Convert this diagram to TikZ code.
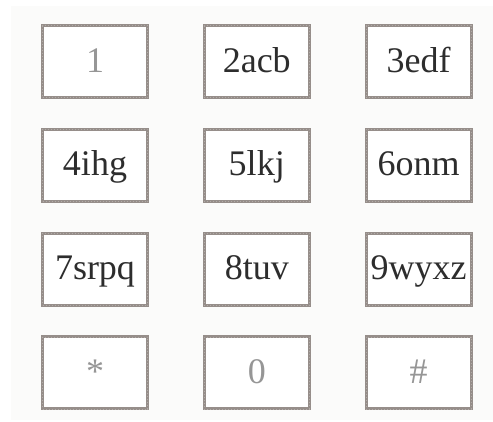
\documentclass[tikz,border=0pt]{standalone}
\usepackage{fontspec}
\setmainfont{Liberation Serif}
\definecolor{keyframe}{RGB}{150,142,138}
\definecolor{keydots}{RGB}{178,172,168}
\definecolor{keydark}{RGB}{45,45,45}
\definecolor{keylight}{RGB}{150,150,150}
\definecolor{panelbg}{RGB}{251,251,250}
\tikzset{
  keybox/.style={draw=keyframe, line width=3pt, fill=white,
    minimum width=105pt, minimum height=72pt, inner sep=0pt,
    text height=21pt, text depth=0pt,
    font=\fontsize{36}{40}\selectfont,
    postaction={draw=keydots, line width=0.6pt, dash pattern=on 0.6pt off 2.4pt}}
}
\begin{document}
\begin{tikzpicture}[x=1pt, y=-1pt]
    % Page and panel
    \fill[white] (0,0) rectangle (493,421);
    \useasboundingbox (0,0) rectangle (493,421);
    \fill[panelbg] (11,6) rectangle (493,420);

    % Keys of the pad
    \foreach \name/\txt/\c/\r/\tc in {k1/1/0/0/keylight, k2/2acb/1/0/keydark, k3/3edf/2/0/keydark,
        k4/4ihg/0/1/keydark, k5/5lkj/1/1/keydark, k6/6onm/2/1/keydark,
        k7/7srpq/0/2/keydark, k8/8tuv/1/2/keydark, k9/9wyxz/2/2/keydark,
        kstar/*/0/3/keylight, k0/0/1/3/keylight, khash/\#/2/3/keylight} {
        \node[keybox, text=\tc] (\name) at ({95+161.75*\c},{61.5+103.8*\r}) {\txt};
    }
\end{tikzpicture}
\end{document}
